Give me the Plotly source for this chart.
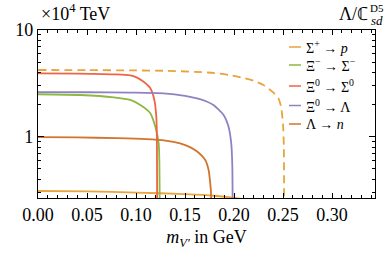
import plotly.graph_objects as go

# ---- data ----
labels = ["Σ<sup>+</sup> → <i>p</i>", "Ξ<sup>−</sup> → Σ<sup>−</sup>", "Ξ<sup>0</sup> → Σ<sup>0</sup>",
          "Ξ<sup>0</sup> → Λ", "Λ → <i>n</i>"]
colors = ["#E8A33A", "#8DB843", "#EE6446", "#8F82C2", "#D2742C"]

sigp_m = [0, 0.05, 0.10, 0.15, 0.18, 0.20, 0.22, 0.24, 0.25]
sigp_v = [0.31, 0.308, 0.30, 0.29, 0.28, 0.268, 0.25, 0.22, 0.15]

sigp_d_m = [0, 0.05, 0.10, 0.13, 0.16, 0.18, 0.196, 0.21, 0.22, 0.23, 0.24, 0.2453, 0.248, 0.25, 0.2508, 0.2511]
sigp_d_v = [4.22, 4.21, 4.18, 4.15, 4.06, 3.95, 3.78, 3.55, 3.35, 3.05, 2.6, 2.29, 1.9, 1.3, 0.8, 0.2]

xim_m = [0, 0.0433, 0.0772, 0.0942, 0.1044, 0.1146, 0.1197, 0.1231, 0.1238, 0.1242]
xim_v = [2.50, 2.46, 2.34, 2.21, 1.98, 1.66, 1.24, 0.87, 0.6, 0.2]

xi0s_m = [0, 0.04, 0.08, 0.0942, 0.10, 0.1078, 0.1146, 0.1187, 0.1207, 0.1213, 0.1216]
xi0s_v = [3.93, 3.91, 3.84, 3.75, 3.62, 3.27, 2.84, 2.21, 1.54, 1.0, 0.2]

xi0l_m = [0, 0.05, 0.094, 0.128, 0.15, 0.1622, 0.172, 0.179, 0.1893, 0.1944, 0.1971, 0.1982, 0.1986]
xi0l_v = [2.62, 2.61, 2.59, 2.55, 2.42, 2.29, 2.14, 1.98, 1.60, 1.24, 0.87, 0.55, 0.2]

lamn_m = [0, 0.04, 0.08, 0.11, 0.13, 0.145, 0.155, 0.162, 0.1706, 0.174, 0.1757, 0.1765, 0.1768]
lamn_v = [0.99, 0.985, 0.97, 0.95, 0.92, 0.866, 0.80, 0.73, 0.605, 0.49, 0.37, 0.30, 0.2]

x_ticks = [0.00, 0.05, 0.10, 0.15, 0.20, 0.25, 0.30]
y_ticks = [1, 10]

FONT = "Liberation Serif"
W, H = 390, 257
# target plot box in screen pixels
SX0, SX1, SY0, SY1 = 38, 375, 30, 198
L, T = SX0, SY0
R, B = W - SX1, H - SY1
PW, PH = SX1 - SX0, SY1 - SY0


def px(x):
    return (x - SX0) / PW


def py(y):
    return (SY1 - y) / PH


fig = go.Figure()
series = [(sigp_m, sigp_v, 0, "solid"), (sigp_d_m, sigp_d_v, 0, "8px,5px"),
          (xim_m, xim_v, 1, "solid"), (xi0s_m, xi0s_v, 2, "solid"),
          (xi0l_m, xi0l_v, 3, "solid"), (lamn_m, lamn_v, 4, "solid")]
for xs, ys, ci, dash in series:
    fig.add_trace(go.Scatter(x=xs, y=ys, mode="lines",
                             line=dict(color=colors[ci], width=1.8, dash=dash, shape="spline", smoothing=0.6),
                             showlegend=False, hoverinfo="skip"))

# manual legend
leg_y = [47, 65, 86, 105.5, 124]
for i, lab in enumerate(labels):
    fig.add_shape(type="line", xref="paper", yref="paper", x0=px(289), x1=px(301),
                  y0=py(leg_y[i]), y1=py(leg_y[i]), line=dict(color=colors[i], width=1.5))
    fig.add_annotation(x=px(304), y=py(leg_y[i]), xref="paper", yref="paper",
                       text=lab, showarrow=False, xanchor="left", yanchor="middle",
                       font=dict(family=FONT, size=14, color="black"))

fig.add_annotation(x=px(39), y=py(13), xref="paper", yref="paper",
                   text="×10<sup>4</sup> TeV", showarrow=False, xanchor="left", yanchor="middle",
                   font=dict(family=FONT, size=18, color="black"))
fig.add_annotation(x=px(370), y=py(14), xref="paper", yref="paper",
                   text="Λ/ℂ", showarrow=False, xanchor="right", yanchor="middle",
                   font=dict(family=FONT, size=18, color="black"))
fig.add_annotation(x=px(385), y=py(21), xref="paper", yref="paper",
                   text="<i>sd</i>", showarrow=False, xanchor="right", yanchor="middle",
                   font=dict(family=FONT, size=13, color="black"))
fig.add_annotation(x=px(386), y=py(8), xref="paper", yref="paper",
                   text="D5", showarrow=False, xanchor="right", yanchor="middle",
                   font=dict(family=FONT, size=11, color="black"))

fig.update_xaxes(range=[0, 0.3438], tickvals=x_ticks, ticktext=[f"{v:.2f}" for v in x_ticks],
                 ticks="inside", ticklen=5, tickwidth=1, tickcolor="black",
                 minor=dict(dtick=0.01, tick0=0, ticks="inside", ticklen=3, tickcolor="black"),
                 showline=True, linecolor="black", linewidth=1.2, mirror="allticks",
                 showgrid=False, zeroline=False,
                 tickfont=dict(family=FONT, size=18, color="black"),
                 title=dict(text="<i>m</i><sub><i>V′</i></sub> in GeV", standoff=6,
                            font=dict(family=FONT, size=18, color="black")))
fig.update_yaxes(type="log", range=[-0.574, 1.0], tickvals=y_ticks, ticktext=["1", "10"],
                 ticks="inside", ticklen=6, tickwidth=1, tickcolor="black",
                 minor=dict(tickvals=[0.3, 0.4, 0.5, 0.6, 0.7, 0.8, 0.9, 2, 3, 4, 5, 6, 7, 8, 9],
                            ticks="inside", ticklen=3, tickcolor="black"),
                 showline=True, linecolor="black", linewidth=1.2, mirror="allticks",
                 showgrid=False, zeroline=False,
                 tickfont=dict(family=FONT, size=18, color="black"))

fig.update_layout(width=W, height=H, margin=dict(l=L, r=R, t=T, b=B),
                  paper_bgcolor="white", plot_bgcolor="white", showlegend=False)

fig.write_html("out.html", config={"displayModeBar": False, "staticPlot": True},
               post_script="document.body.style.margin='0px';")
